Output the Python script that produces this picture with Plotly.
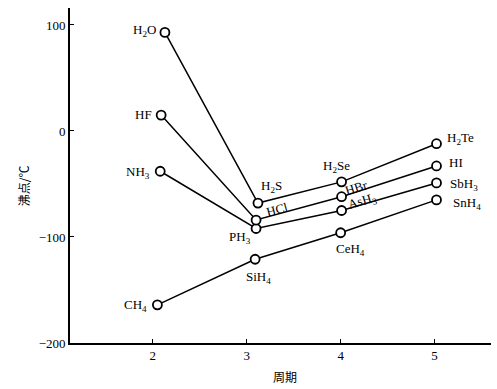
import plotly.graph_objects as go

# Data (x = period position of each marker, y = boiling point / ℃)
group14_names = ["CH<sub>4</sub>", "SiH<sub>4</sub>", "CeH<sub>4</sub>", "SnH<sub>4</sub>"]
group14_x = [2.05, 3.09, 4.00, 5.02]
group14_y = [-164, -121, -96, -65]

group15_names = ["NH<sub>3</sub>", "PH<sub>3</sub>", "AsH<sub>3</sub>", "SbH<sub>3</sub>"]
group15_x = [2.08, 3.10, 4.01, 5.02]
group15_y = [-38, -92, -75, -49]

group17_names = ["HF", "HCl", "HBr", "HI"]
group17_x = [2.09, 3.10, 4.01, 5.02]
group17_y = [15, -84, -62, -33]

group16_names = ["H<sub>2</sub>O", "H<sub>2</sub>S", "H<sub>2</sub>Se", "H<sub>2</sub>Te"]
group16_x = [2.13, 3.12, 4.01, 5.02]
group16_y = [93, -68, -48, -12]

x_ticks = [2, 3, 4, 5]
y_ticks = [100, 0, -100, -200]

FONT = "Liberation Serif"
CJK = "Noto Sans CJK SC"

fig = go.Figure()
for xs, ys in [(group14_x, group14_y), (group15_x, group15_y),
               (group17_x, group17_y), (group16_x, group16_y)]:
    fig.add_trace(go.Scatter(
        x=xs, y=ys, mode="lines+markers",
        line=dict(color="black", width=1.5),
        marker=dict(symbol="circle", size=9, color="white",
                    line=dict(color="black", width=1.8)),
        showlegend=False, hoverinfo="skip"))

# label placement: (xanchor, xshift, yshift, angle) per point
label_style = {
    "H<sub>2</sub>O": ("right", -7, 2, 0),
    "HF": ("right", -7, 1, 0),
    "NH<sub>3</sub>": ("right", -8, -1, 0),
    "CH<sub>4</sub>": ("right", -8, -1, 0),
    "H<sub>2</sub>S": ("center", 14, 17, 0),
    "HCl": ("center", 21, 11, -15),
    "PH<sub>3</sub>": ("center", -16, -9, 0),
    "SiH<sub>4</sub>": ("center", 3, -18, 0),
    "H<sub>2</sub>Se": ("center", -5, 15, 0),
    "HBr": ("center", 15, 9, -17),
    "AsH<sub>3</sub>": ("center", 21, 9, -16),
    "CeH<sub>4</sub>": ("center", 10, -17, 0),
    "H<sub>2</sub>Te": ("left", 8, 5, 0),
    "HI": ("left", 10, 3, 0),
    "SbH<sub>3</sub>": ("left", 11, -2, 0),
    "SnH<sub>4</sub>": ("left", 14, -4, 0),
}

for names, xs, ys in [(group14_names, group14_x, group14_y),
                      (group15_names, group15_x, group15_y),
                      (group17_names, group17_x, group17_y),
                      (group16_names, group16_x, group16_y)]:
    for n, xv, yv in zip(names, xs, ys):
        xa, dx, dy, ang = label_style[n]
        fig.add_annotation(x=xv, y=yv, text=n, showarrow=False,
                           xanchor=xa, yanchor="middle", xshift=dx, yshift=dy,
                           textangle=ang,
                           font=dict(family=FONT, size=13, color="black"))

# axis titles
fig.add_annotation(xref="paper", yref="paper", x=-0.135, y=0.47,
                   text="沸点/℃", showarrow=False, textangle=-90,
                   font=dict(family=CJK, size=12, color="black"))
fig.add_annotation(xref="paper", yref="paper", x=0.51, y=-0.10,
                   text="周期", showarrow=False, yanchor="middle",
                   font=dict(family=CJK, size=12, color="black"))

fig.update_xaxes(range=[1.12, 5.6], tickvals=x_ticks, ticktext=[str(t) for t in x_ticks],
                 ticks="inside", ticklen=4, tickwidth=1, tickcolor="black",
                 showline=True, linecolor="black", linewidth=1.6,
                 showgrid=False, zeroline=False, automargin=False,
                 tickfont=dict(family=FONT, size=13, color="black"))
fig.update_yaxes(range=[-200, 116], tickvals=y_ticks,
                 ticks="inside", ticklen=4, tickwidth=1, tickcolor="black",
                 showline=True, linecolor="black", linewidth=1.6,
                 showgrid=False, zeroline=False, automargin=False,
                 tickfont=dict(family=FONT, size=13, color="black"))

fig.update_layout(width=497, height=389,
                  margin=dict(l=70, r=6, t=8, b=46),
                  plot_bgcolor="white", paper_bgcolor="white")

fig.write_html("out.html", config={"displayModeBar": False},
               post_script="document.body.style.margin='0';document.body.style.overflow='hidden';")
